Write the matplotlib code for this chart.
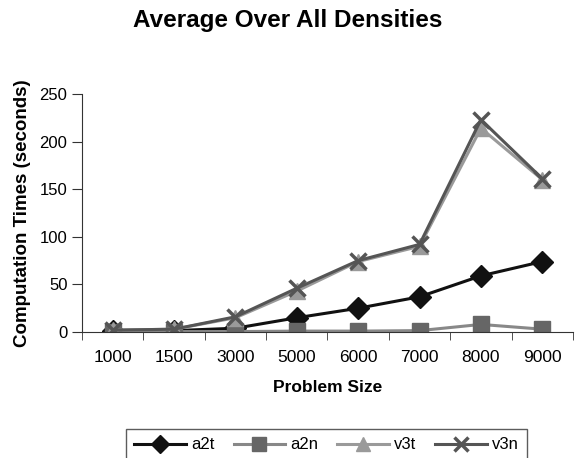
import matplotlib

matplotlib.use("Agg")
import matplotlib.pyplot as plt
import numpy as np

plt.rcParams["font.family"] = ["Liberation Sans", "DejaVu Sans"]

# Average computation time per problem size
problem_sizes = ["1000", "1500", "3000", "5000", "6000", "7000", "8000", "9000"]
a2t = [1, 1.5, 4, 15, 25, 37, 59, 74]
a2n = [0.5, 0.5, 0.5, 1, 1, 1.5, 8, 3]
v3t = [2, 3, 15, 43, 74, 90, 214, 160]
v3n = [2, 3, 16, 46, 75, 92, 223, 161]

series = [
    ("a2t", a2t, "#111111", "#111111", "D", 11),
    ("a2n", a2n, "#888888", "#666666", "s", 12),
    ("v3t", v3t, "#9a9a9a", "#9a9a9a", "^", 12),
    ("v3n", v3n, "#555555", "#555555", "x", 12),
]

fig = plt.figure(figsize=(5.79, 4.58), dpi=100)
ax = fig.add_axes([0.1416, 0.275, 0.848, 0.52])

x = np.arange(len(problem_sizes))
for name, values, line_color, marker_color, marker, size in series:
    ax.plot(x, values, color=line_color, lw=2.2, marker=marker, markersize=size,
            markerfacecolor=marker_color, markeredgecolor=marker_color,
            markeredgewidth=2.5 if marker == "x" else 1, label=name)

ax.set_xlim(-0.5, len(problem_sizes) - 0.5)
ax.set_ylim(0, 250)
ax.set_yticks([0, 50, 100, 150, 200, 250])
ax.set_xticks(x)
ax.set_xticklabels(problem_sizes)
ax.set_xticks(np.arange(-0.5, len(problem_sizes)), minor=True)
ax.tick_params(axis="x", which="major", length=0, pad=13, labelsize=12.5)
ax.tick_params(axis="x", which="minor", length=6, color="#333333")
ax.tick_params(axis="y", length=7, labelsize=12, color="#333333")

for side in ("top", "right"):
    ax.spines[side].set_visible(False)
for side in ("left", "bottom"):
    ax.spines[side].set_color("#333333")

ax.set_xlabel("Problem Size", fontsize=12.5, fontweight="bold", labelpad=11)
ax.set_ylabel("Computation Times (seconds)", fontsize=13.5, fontweight="bold", labelpad=6)
fig.text(0.497, 0.955, "Average Over All Densities", ha="center", va="center",
         fontsize=17.5, fontweight="bold")

# Legend box runs off the bottom edge of the figure
leg = fig.legend(loc="upper left", bbox_to_anchor=(0.2176, 0.0633), ncol=4,
                 fontsize=12, frameon=True, fancybox=False, borderpad=0.5,
                 borderaxespad=0, handlelength=3.1, columnspacing=1.15,
                 handletextpad=0.3, markerscale=0.85)
leg.get_frame().set_edgecolor("#333333")
leg.get_frame().set_linewidth(1)

fig.savefig("out.png", dpi=100)
